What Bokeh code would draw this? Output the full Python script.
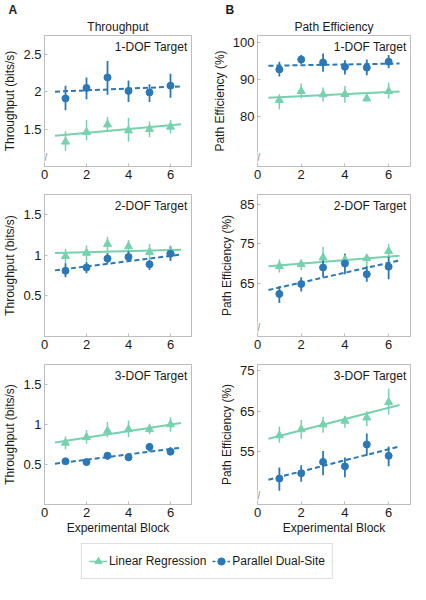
from bokeh.plotting import figure
from bokeh.models import (Range1d, FixedTicker, CustomJSTickFormatter, Label,
                          Legend, LegendItem, Title)
from bokeh.layouts import column, row
from bokeh.embed import file_html
from bokeh.resources import INLINE

# ---------------- data ----------------
blocks = [1, 2, 3, 4, 5, 6]
fit_x = [0.5, 6.5]

# Throughput, 1-DOF
tp1_lr = [1.33, 1.46, 1.56, 1.48, 1.50, 1.53]
tp1_lr_hi = [1.47, 1.62, 1.66, 1.65, 1.60, 1.62]
tp1_lr_lo = [1.21, 1.35, 1.47, 1.33, 1.39, 1.44]
tp1_pd = [1.91, 2.05, 2.19, 2.01, 1.99, 2.08]
tp1_pd_hi = [2.08, 2.19, 2.41, 2.15, 2.10, 2.24]
tp1_pd_lo = [1.75, 1.90, 1.96, 1.86, 1.86, 1.92]
tp1_lr_fit = [1.41, 1.565]
tp1_pd_fit = [2.00, 2.07]

# Path efficiency, 1-DOF
pe1_lr = [84.5, 86.9, 86.0, 86.1, 84.9, 86.9]
pe1_lr_hi = [86.1, 89.0, 87.9, 88.4, 86.0, 89.2]
pe1_lr_lo = [82.0, 84.9, 84.1, 83.8, 84.1, 84.9]
pe1_pd = [92.8, 95.5, 94.7, 93.5, 93.3, 94.9]
pe1_pd_hi = [94.9, 96.7, 97.1, 95.3, 95.5, 96.7]
pe1_pd_lo = [90.9, 94.3, 92.2, 91.4, 91.2, 93.1]
pe1_lr_fit = [85.1, 86.8]
pe1_pd_fit = [93.8, 94.4]

# Throughput, 2-DOF
tp2_lr = [0.99, 1.03, 1.14, 1.11, 1.04, 1.05]
tp2_lr_hi = [1.08, 1.12, 1.23, 1.19, 1.14, 1.12]
tp2_lr_lo = [0.89, 0.93, 1.04, 1.02, 0.94, 0.98]
tp2_pd = [0.81, 0.85, 0.96, 0.98, 0.89, 1.02]
tp2_pd_hi = [0.90, 0.92, 1.03, 1.05, 0.94, 1.11]
tp2_pd_lo = [0.73, 0.78, 0.90, 0.92, 0.82, 0.93]
tp2_lr_fit = [1.03, 1.07]
tp2_pd_fit = [0.815, 1.01]

# Path efficiency, 2-DOF
pe2_lr = [69.3, 69.8, 71.5, 71.0, 71.3, 73.1]
pe2_lr_hi = [71.0, 71.0, 74.2, 72.5, 72.3, 75.0]
pe2_lr_lo = [67.7, 68.3, 69.0, 69.3, 69.0, 71.3]
pe2_pd = [62.3, 64.8, 69.0, 70.0, 67.3, 69.2]
pe2_pd_hi = [64.3, 66.5, 71.5, 72.5, 69.3, 71.7]
pe2_pd_lo = [60.0, 62.9, 66.5, 67.3, 65.4, 66.0]
pe2_lr_fit = [69.3, 72.0]
pe2_pd_fit = [63.3, 70.8]

# Throughput, 3-DOF
tp3_lr = [0.77, 0.84, 0.92, 0.94, 0.94, 1.00]
tp3_lr_hi = [0.85, 0.93, 1.03, 1.05, 1.01, 1.09]
tp3_lr_lo = [0.69, 0.76, 0.84, 0.84, 0.88, 0.91]
tp3_pd = [0.54, 0.53, 0.61, 0.59, 0.72, 0.66]
tp3_pd_hi = [0.57, 0.57, 0.65, 0.64, 0.77, 0.72]
tp3_pd_lo = [0.51, 0.49, 0.56, 0.55, 0.66, 0.62]
tp3_lr_fit = [0.775, 1.02]
tp3_pd_fit = [0.51, 0.71]

# Path efficiency, 3-DOF
pe3_lr = [59.0, 60.5, 61.7, 62.6, 63.4, 67.2]
pe3_lr_hi = [61.2, 62.8, 63.6, 63.9, 65.0, 70.5]
pe3_lr_lo = [57.2, 58.2, 59.7, 60.9, 61.3, 64.2]
pe3_pd = [48.4, 49.7, 52.5, 51.4, 56.8, 54.0]
pe3_pd_hi = [51.1, 51.7, 55.2, 53.6, 59.5, 56.3]
pe3_pd_lo = [45.4, 47.6, 49.2, 48.7, 54.0, 51.4]
pe3_lr_fit = [58.2, 66.5]
pe3_pd_fit = [48.1, 56.3]

x_ticks = [0, 2, 4, 6]
tp1_ticks = [1.5, 2, 2.5]
tp2_ticks = [0.5, 1, 1.5]
tp3_ticks = [0.5, 1, 1.5]
pe1_ticks = [80, 90, 100]
pe2_ticks = [65, 75, 85]
pe3_ticks = [55, 65, 75]

series_names = ["Linear Regression", "Parallel Dual-Site"]
col_titles = ["Throughput", "Path Efficiency"]
panel_letters = ["A", "B"]
y_labels = ["Throughput (bits/s)", "Path Efficiency (%)"]
x_label = "Experimental Block"
targets = ["1-DOF Target", "2-DOF Target", "3-DOF Target"]

# ---------------- style ----------------
GREEN = "#76d1ae"
BLUE = "#2b78b6"
FRAME = "#bdbdbd"
TXT = "#1a1a1a"
FONT = "Liberation Sans"


def make_panel(width, height, borders, yrange, yticks, ylab,
               lr, lr_lo, lr_hi, pd, pd_lo, pd_hi, lr_fit, pd_fit, tag,
               title=None, letter=None, letter_offset=0, xlab=None, brk=True):
    bl, br, bt, bb = borders
    p = figure(width=width, height=height, x_range=Range1d(0, 7),
               y_range=Range1d(*yrange), output_backend="svg",
               toolbar_location=None, title=letter,
               min_border_left=bl, min_border_right=br,
               min_border_top=bt, min_border_bottom=bb)
    p.xgrid.visible = False
    p.ygrid.visible = False
    p.outline_line_color = FRAME
    p.background_fill_color = "white"
    p.border_fill_color = "white"
    for ax in (p.xaxis[0], p.yaxis[0]):
        ax.axis_line_color = FRAME
        ax.major_tick_line_color = FRAME
        ax.major_tick_in = 3
        ax.major_tick_out = 0
        ax.minor_tick_line_color = None
        ax.major_label_text_font = FONT
        ax.major_label_text_font_size = "13px"
        ax.major_label_text_color = TXT
        ax.major_label_standoff = 3
        ax.axis_label_text_font = FONT
        ax.axis_label_text_font_size = "12px"
        ax.axis_label_text_font_style = "normal"
        ax.axis_label_text_color = TXT
        ax.axis_label_standoff = 3
    p.xaxis.ticker = FixedTicker(ticks=x_ticks)
    p.yaxis.ticker = FixedTicker(ticks=yticks)
    p.yaxis.formatter = CustomJSTickFormatter(code="return String(tick)")
    p.xaxis.formatter = CustomJSTickFormatter(code="return String(tick)")
    p.yaxis.axis_label = ylab
    if xlab:
        p.xaxis.axis_label = xlab
        p.xaxis.axis_label_standoff = 1
    if letter:
        # panel letter (outermost title), then the column title next to frame
        p.title.align = "left"
        p.title.offset = letter_offset
        p.title.standoff = 0
        p.title.text_font = FONT
        p.title.text_font_size = "12px"
        p.title.text_font_style = "bold"
        p.title.text_color = TXT
        p.title.text_line_height = 1.0
        p.add_layout(Title(text=title, align="center", standoff=3,
                           text_font=FONT, text_font_size="12px",
                           text_font_style="normal", text_color=TXT,
                           text_line_height=1.0), "above")

    p.line(fit_x, lr_fit, line_color=GREEN, line_width=2)
    p.line(fit_x, pd_fit, line_color=BLUE, line_width=2, line_dash="5 3")
    p.segment(blocks, lr_lo, blocks, lr_hi, line_color=GREEN, line_width=1.5)
    p.segment(blocks, pd_lo, blocks, pd_hi, line_color=BLUE, line_width=1.8)
    p.scatter(blocks, lr, marker="triangle", size=8, color=GREEN)
    p.scatter(blocks, pd, marker="circle", size=7, color=BLUE)

    p.add_layout(Label(x=7, y=yrange[1], x_offset=-4, y_offset=-4, text=tag,
                       text_align="right", text_baseline="top",
                       text_font=FONT, text_font_size="12px",
                       text_color=TXT))
    if brk:
        p.add_layout(Label(x=0, y=yrange[0], y_offset=9, text="//",
                           text_align="center", text_baseline="middle",
                           text_font=FONT, text_font_size="10px",
                           text_color="#8a8a8a",
                           background_fill_color="white"))
    return p


LW, RW = 205, 209
H1, H2, H3 = 186, 170, 184
LB = (36, 14)
RB = (52, 4)

p1 = make_panel(LW, H1, (*LB, 20, 20), (1, 2.75), tp1_ticks, y_labels[0],
                tp1_lr, tp1_lr_lo, tp1_lr_hi, tp1_pd, tp1_pd_lo, tp1_pd_hi,
                tp1_lr_fit, tp1_pd_fit, targets[0], title=col_titles[0],
                letter=panel_letters[0], letter_offset=-36, brk=True)
p2 = make_panel(RW, H1, (*RB, 20, 20), (66.5, 102), pe1_ticks, y_labels[1],
                pe1_lr, pe1_lr_lo, pe1_lr_hi, pe1_pd, pe1_pd_lo, pe1_pd_hi,
                pe1_lr_fit, pe1_pd_fit, targets[0], title=col_titles[1],
                letter=panel_letters[1], letter_offset=-32, brk=True)
p3 = make_panel(LW, H2, (*LB, 8, 20), (0, 1.75), tp2_ticks, y_labels[0],
                tp2_lr, tp2_lr_lo, tp2_lr_hi, tp2_pd, tp2_pd_lo, tp2_pd_hi,
                tp2_lr_fit, tp2_pd_fit, targets[1], brk=False)
p4 = make_panel(RW, H2, (*RB, 8, 20), (51.5, 87.5), pe2_ticks, y_labels[1],
                pe2_lr, pe2_lr_lo, pe2_lr_hi, pe2_pd, pe2_pd_lo, pe2_pd_hi,
                pe2_lr_fit, pe2_pd_fit, targets[1], brk=True)
p5 = make_panel(LW, H3, (*LB, 8, 36), (0, 1.75), tp3_ticks, y_labels[0],
                tp3_lr, tp3_lr_lo, tp3_lr_hi, tp3_pd, tp3_pd_lo, tp3_pd_hi,
                tp3_lr_fit, tp3_pd_fit, targets[2], xlab=x_label, brk=False)
p6 = make_panel(RW, H3, (*RB, 8, 36), (42, 76.5), pe3_ticks, y_labels[1],
                pe3_lr, pe3_lr_lo, pe3_lr_hi, pe3_pd, pe3_pd_lo, pe3_pd_hi,
                pe3_lr_fit, pe3_pd_fit, targets[2], xlab=x_label, brk=True)

# legend panel: renderers hold real series data, kept outside the view
pl = figure(width=LW + RW, height=42, x_range=Range1d(-20, -19),
            y_range=Range1d(0, 1), output_backend="svg",
            toolbar_location=None, min_border=0)
pl.axis.visible = False
pl.xgrid.visible = False
pl.ygrid.visible = False
pl.outline_line_color = None
r1 = pl.line(blocks, tp1_lr, line_color=GREEN, line_width=1.5)
r1m = pl.scatter(blocks, tp1_lr, marker="triangle", size=6, color=GREEN)
r2 = pl.line(blocks, tp1_pd, line_color=BLUE, line_width=1.5, line_dash="3 2")
r2m = pl.scatter(blocks, tp1_pd, marker="circle", size=5, color=BLUE)
leg = Legend(items=[LegendItem(label=series_names[0], renderers=[r1, r1m]),
                    LegendItem(label=series_names[1], renderers=[r2, r2m])],
             orientation="horizontal", location="center",
             border_line_color="#bdbdbd", label_text_font=FONT,
             label_text_font_size="12px", label_text_color=TXT,
             glyph_width=18, label_standoff=2, spacing=6, padding=7,
             margin=0, background_fill_alpha=1.0)
pl.add_layout(leg, "center")

layout = column(row(p1, p2), row(p3, p4), row(p5, p6), pl)

open("out.html", "w").write(file_html(layout, INLINE))
